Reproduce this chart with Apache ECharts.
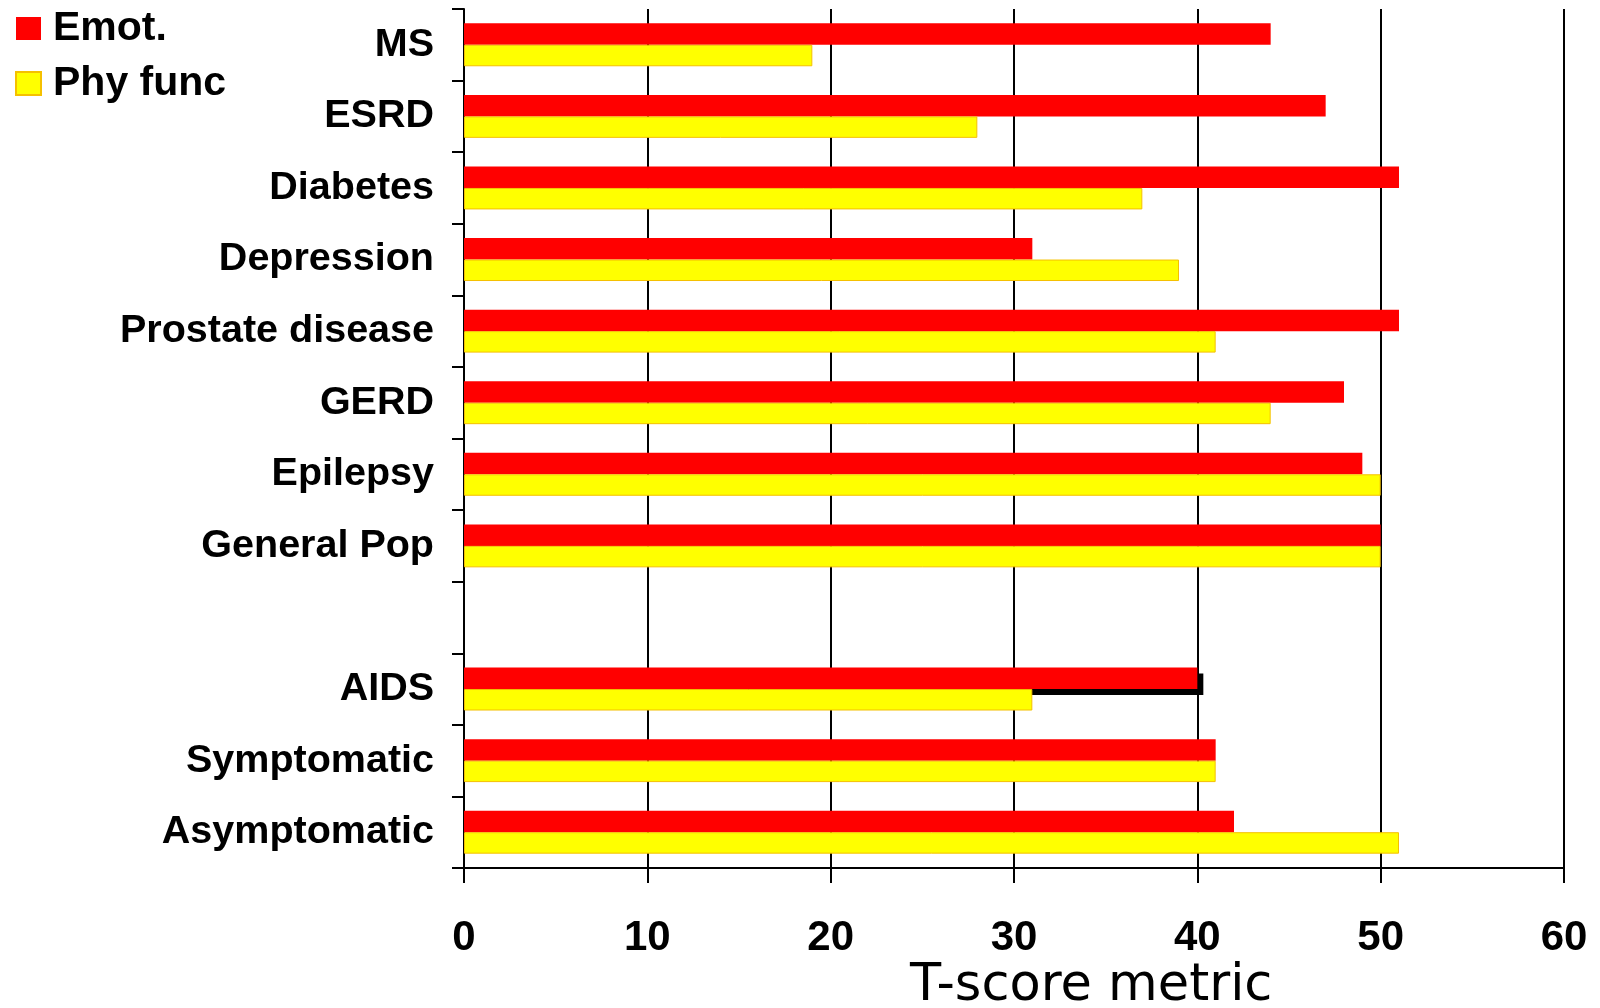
<!DOCTYPE html>
<html>
<head>
<meta charset="utf-8">
<script src="https://cdn.jsdelivr.net/npm/echarts@6/dist/echarts.min.js"></script>
<style>
html,body{margin:0;padding:0;background:#fff;}
#c{width:1600px;height:1008px;}
</style>
</head>
<body>
<div id="c"></div>
<script>
const categories = ['MS','ESRD','Diabetes','Depression','Prostate disease','GERD','Epilepsy','General Pop','','AIDS','Symptomatic','Asymptomatic'];
const emot = [44, 47, 51, 31, 51, 48, 49, 50, null, 40, 41, 42];
const phyFunc = [19, 28, 37, 39, 41, 44, 50, 50, null, 31, 41, 51];
const xTicks = [0, 10, 20, 30, 40, 50, 60];
const seriesNames = ['Emot.', 'Phy func'];
const axisTitle = 'T-score metric';

const chart = echarts.init(document.getElementById('c'), null, {renderer:'canvas'});
const font = '"Liberation Sans", Arial, sans-serif';

const emotData = emot.map((v, i) => {
  if (v === null) return '-';
  if (categories[i] === 'AIDS') {
    return {value: v, itemStyle: {shadowColor:'#000', shadowOffsetX:6, shadowOffsetY:6, shadowBlur:0}};
  }
  return v;
});
const phyData = phyFunc.map(v => v === null ? '-' : v);

chart.setOption({
  animation: false,
  backgroundColor: '#fff',
  legend: {
    orient: 'vertical',
    left: 15, top: 8, padding: 0,
    itemWidth: 25, itemHeight: 23,
    itemGap: 14,
    icon: 'rect',
    textStyle: {fontFamily: font, fontWeight: 'bold', fontSize: 41, color: '#000', lineHeight: 41, padding: [0,0,0,7]},
    data: seriesNames
  },
  grid: {left: 464, right: 36, top: 9, bottom: 140, containLabel: false},
  xAxis: {
    type: 'value', min: xTicks[0], max: xTicks[xTicks.length-1], interval: 10,
    axisLine: {show: true, lineStyle: {color:'#000', width: 2}},
    axisTick: {show: true, length: 15, lineStyle: {color:'#000', width: 2}},
    splitLine: {show: true, lineStyle: {color:'#000', width: 2}},
    axisLabel: {fontFamily: font, fontWeight: 'bold', fontSize: 42, color:'#000', margin: 49}
  },
  yAxis: {
    type: 'category', inverse: true, data: categories,
    axisLine: {show: true, lineStyle: {color:'#000', width: 2}},
    axisTick: {show: true, length: 12, lineStyle: {color:'#000', width: 2}},
    axisLabel: {fontFamily: font, fontWeight: 'bold', fontSize: 39.5, color:'#000', margin: 30}
  },
  series: [
    {
      name: seriesNames[0], type: 'bar', data: emotData,
      barGap: '0%', barCategoryGap: '40%',
      itemStyle: {color: '#ff0000'}
    },
    {
      name: seriesNames[1], type: 'bar', data: phyData,
      barGap: '0%', barCategoryGap: '40%',
      itemStyle: {color: '#ffff00', borderColor: '#f5c000', borderWidth: 1}
    }
  ],
  graphic: [{
    type: 'text', left: 1095 - 185, top: 983 - 22,
    style: {text: axisTitle, fontFamily: '"Comic Sans MS", "DejaVu Sans", sans-serif', fontSize: 51, fill: '#000'}
  }]
});
</script>
</body>
</html>
